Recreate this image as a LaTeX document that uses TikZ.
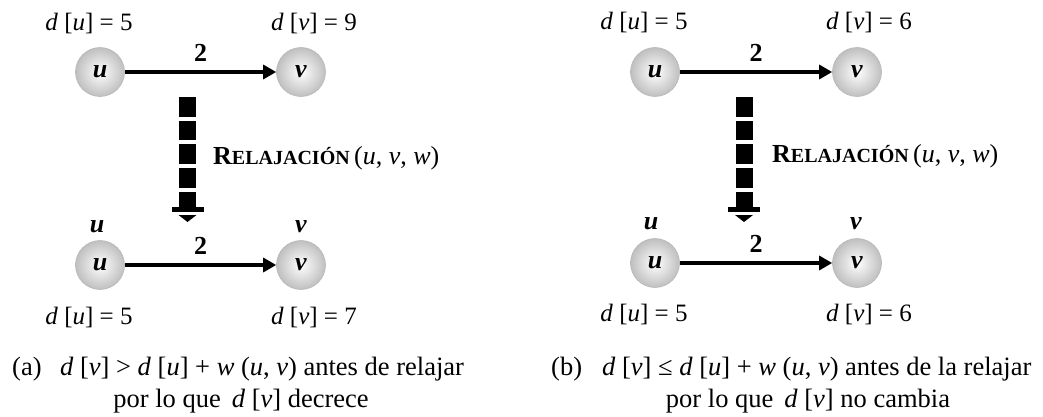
\documentclass[tikz,border=0pt]{standalone}
\usepackage{fontspec}
\setmainfont{Liberation Serif}
\usetikzlibrary{arrows.meta}
\newcommand{\iv}[1]{\textit{#1}}
\newcommand{\relname}{\textbf{R{\fontsize{20}{24}\selectfont ELAJACIÓN}}\,(\iv{u}, \iv{v}, \iv{w})}
\tikzset{
  ball/.style={circle, minimum size=49pt, inner sep=0pt, draw=gray!55, line width=0.6pt,
    inner color=white, outer color=gray!50, font=\fontsize{26}{30}\selectfont\bfseries\itshape},
  lbl/.style={font=\fontsize{25}{30}\selectfont, anchor=base, inner sep=0pt},
  wt/.style={font=\fontsize{26}{30}\selectfont\bfseries, anchor=base, inner sep=0pt},
  tag/.style={font=\fontsize{26}{30}\selectfont\bfseries\itshape, anchor=base, inner sep=0pt},
  captext/.style={font=\fontsize{26.5}{30}\selectfont, inner sep=0pt},
  rel/.style={font=\fontsize{26}{30}\selectfont, anchor=base west, inner sep=0pt},
  edge/.style={line width=3.2pt, -{Triangle[length=13pt,width=14pt]}},
}
\newcommand{\relarrow}[1]{%
  \fill (#1-8.5,97) rectangle (#1+8.5,117);
  \fill (#1-8.5,121) rectangle (#1+8.5,140);
  \fill (#1-8.5,144) rectangle (#1+8.5,164);
  \fill (#1-8.5,168) rectangle (#1+8.5,188);
  \fill (#1-8.5,192) rectangle (#1+8.5,207);
  \fill (#1-16,207) rectangle (#1+16,212);
  \fill (#1-9,215) -- (#1+9,215) -- (#1,222) -- cycle;
}
\begin{document}
\begin{tikzpicture}[x=1pt,y=-1pt]
\useasboundingbox (0,0) rectangle (1043,417);
% ---------- panel (a)
\node[ball] (ua) at (100,72) {u};
\node[ball] (va) at (301,72) {v};
\draw[edge] (ua) -- node[wt, above=9pt] (wa) {2} (va);
\node[lbl] (dua) at (89,31) {\iv{d} [\iv{u}] = 5};
\node[lbl] (dva) at (314,31) {\iv{d} [\iv{v}] = 9};
\relarrow{187.5}
\node[rel] (ra) at (213,164) {\relname};
\node[ball] (ua2) at (100,265) {u};
\node[ball] (va2) at (301,265) {v};
\draw[edge] (ua2) -- node[wt, above=9pt] (wa2) {2} (va2);
\node[tag] (ta) at (97,232) {u};
\node[tag] (tb) at (301,232) {v};
\node[lbl] (dua2) at (89,324) {\iv{d} [\iv{u}] = 5};
\node[lbl] (dva2) at (314,324) {\iv{d} [\iv{v}] = 7};
\node[captext, anchor=base west] (capa) at (12,375) {(a)};
\node[captext, anchor=base west] (capa1) at (60,375) {\iv{d} [\iv{v}] > \iv{d} [\iv{u}] + \iv{w} (\iv{u}, \iv{v}) antes de relajar};
\node[captext, anchor=base] (capa2) at (241,407) {por lo que\, \iv{d} [\iv{v}] decrece};
% ---------- panel (b)
\node[ball] (ub) at (655,72) {u};
\node[ball] (vb) at (857,72) {v};
\draw[edge] (ub) -- node[wt, above=9pt] (wb) {2} (vb);
\node[lbl] (dub) at (644,30) {\iv{d} [\iv{u}] = 5};
\node[lbl] (dvb) at (869,30) {\iv{d} [\iv{v}] = 6};
\relarrow{744}
\node[rel] (rb) at (772,162) {\relname};
\node[ball] (ub2) at (655,263) {u};
\node[ball] (vb2) at (857,263) {v};
\draw[edge] (ub2) -- node[wt, above=9pt] (wb2) {2} (vb2);
\node[tag] (tc) at (651,229) {u};
\node[tag] (td) at (856,229) {v};
\node[lbl] (dub2) at (644,321) {\iv{d} [\iv{u}] = 5};
\node[lbl] (dvb2) at (869,321) {\iv{d} [\iv{v}] = 6};
\node[captext, anchor=base west] (capb) at (551,375) {(b)};
\node[captext, anchor=base west] (capb1) at (602,375) {\iv{d} [\iv{v}] ≤ \iv{d} [\iv{u}] + \iv{w} (\iv{u}, \iv{v}) antes de la relajar};
\node[captext, anchor=base] (capb2) at (808,407) {por lo que\, \iv{d} [\iv{v}] no cambia};
\end{tikzpicture}
\end{document}
